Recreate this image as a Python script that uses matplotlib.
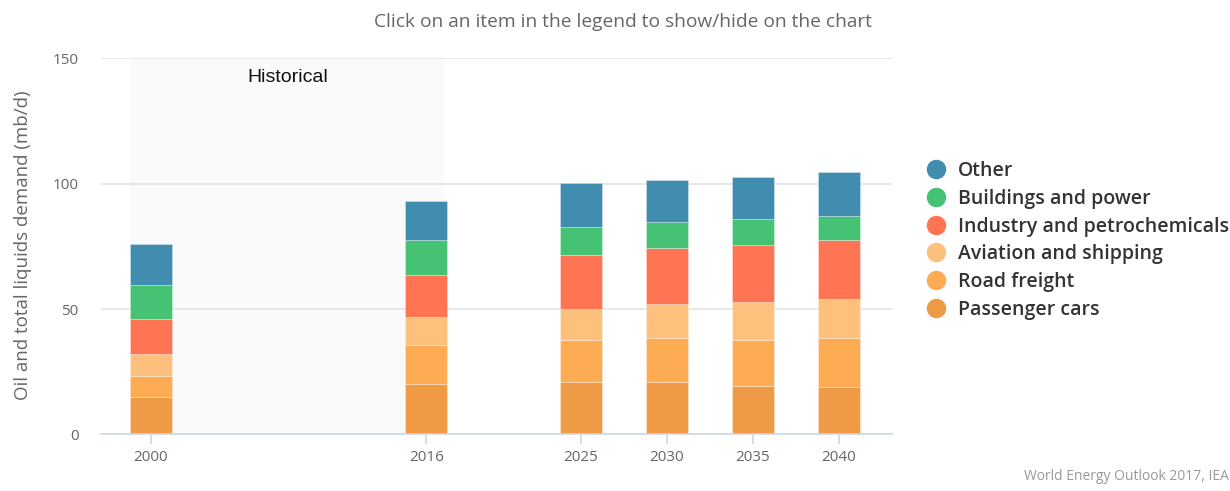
import matplotlib.pyplot as plt
from matplotlib.lines import Line2D

# data (mb/d)
years = [2000, 2016, 2025, 2030, 2035, 2040]
passenger_cars = [14.9, 20.2, 20.9, 20.9, 19.5, 18.9]
road_freight = [8.4, 15.5, 16.9, 17.4, 18.3, 19.4]
aviation_shipping = [8.7, 11.1, 12.4, 13.8, 14.9, 15.8]
industry_petrochem = [14.1, 16.9, 21.3, 22.2, 22.8, 23.4]
buildings_power = [13.6, 13.7, 11.2, 10.4, 10.4, 9.8]
other = [16.4, 15.6, 17.6, 16.8, 17.0, 17.4]

series_names = ['Passenger cars', 'Road freight', 'Aviation and shipping',
                'Industry and petrochemicals', 'Buildings and power', 'Other']
series_values = [passenger_cars, road_freight, aviation_shipping,
                 industry_petrochem, buildings_power, other]
series_colors = ['#ef9b46', '#fdac54', '#fdc17d', '#ff7453', '#45c274', '#408db0']

hist_span = (1998.8, 2017.05)

plt.rcParams['font.family'] = ['Open Sans', 'DejaVu Sans']

fig = plt.figure(figsize=(12.3, 4.91), dpi=100)
ax = fig.add_axes([0.0821, 0.1151, 0.6431, 0.7658])

ax.axvspan(*hist_span, ymin=0, ymax=1, color='#f7f7f7', alpha=0.6, lw=0, zorder=0)
ax.text(2005.6, 142.6, 'Historical', family='Liberation Sans', fontsize=14,
        color='#111111', va='center', ha='left')

bottom = [0.0] * len(years)
for name, vals, col in zip(series_names, series_values, series_colors):
    ax.bar(years, vals, width=2.44, bottom=bottom, color=col,
           edgecolor=(1, 1, 1, 0.35), linewidth=0.6, zorder=3, label=name)
    bottom = [b + v for b, v in zip(bottom, vals)]

ax.set_xlim(1997.09, 2043.08)
ax.set_ylim(0, 150)
ax.set_yticks([0, 50, 100, 150])
ax.set_xticks(years)
ax.grid(axis='y', color='#e6e6e6', linewidth=1.3, zorder=1)
ax.set_axisbelow(True)

for s in ['top', 'right', 'left']:
    ax.spines[s].set_visible(False)
ax.spines['bottom'].set_color('#ccd6eb')
ax.spines['bottom'].set_linewidth(1.2)
ax.spines['bottom'].set_zorder(4)

ax.tick_params(axis='x', direction='out', length=7.5, width=1.2, color='#ccd6eb',
               labelsize=11, labelcolor='#666666', pad=4)
ax.tick_params(axis='y', length=0, labelsize=11, labelcolor='#666666', pad=16)

fig.text(0.0185, 0.501, 'Oil and total liquids demand (mb/d)', rotation=90,
         ha='center', va='center', fontsize=13.5, color='#666666')

fig.text(0.5065, 0.955, 'Click on an item in the legend to show/hide on the chart',
         ha='center', va='center', fontsize=13.8, color='#666666')

handles = [Line2D([], [], marker='o', linestyle='none', markersize=13,
                  markerfacecolor=c, markeredgecolor=c)
           for c in series_colors[::-1]]
leg = fig.legend(handles, series_names[::-1], loc='upper left',
                 bbox_to_anchor=(0.745, 0.688), frameon=False,
                 prop={'family': 'Open Sans', 'weight': 'semibold', 'size': 14},
                 labelspacing=0.4, handletextpad=0.55, handlelength=1.2,
                 borderaxespad=0)
for t in leg.get_texts():
    t.set_color('#333333')

fig.text(0.999, 0.014, 'World Energy Outlook 2017, IEA', ha='right', va='bottom',
         fontsize=10, color='#999999')

fig.savefig('out.png', dpi=100)
